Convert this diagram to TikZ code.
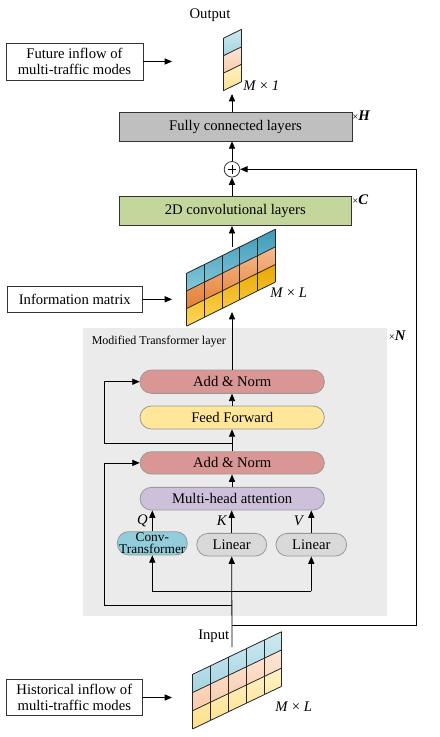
\documentclass[tikz,border=0pt]{standalone}
\usepackage{fontspec}
\setmainfont{Liberation Serif}
\usetikzlibrary{arrows.meta}
\newcommand\PX{0.75pt}
\definecolor{bgc}{HTML}{EBEBEB}
\definecolor{fcc}{HTML}{BFBFBF}
\definecolor{cvc}{HTML}{C3D69B}
\definecolor{anc}{HTML}{D99694}
\definecolor{ffc}{HTML}{FFE699}
\definecolor{mhc}{HTML}{CCC0DA}
\definecolor{ctc}{HTML}{92CDDC}
\definecolor{lnc}{HTML}{D9D9D9}
\definecolor{sBt}{HTML}{3D9BB8}
\definecolor{sBb}{HTML}{86C8DB}
\definecolor{sOt}{HTML}{F7B98E}
\definecolor{sOb}{HTML}{E47F33}
\definecolor{sYt}{HTML}{E8A800}
\definecolor{sYb}{HTML}{FFD65A}
\definecolor{lBt}{HTML}{CFE9F1}
\definecolor{lBb}{HTML}{A3D4E2}
\definecolor{lOt}{HTML}{FDE6D6}
\definecolor{lOb}{HTML}{F8C9AA}
\definecolor{lYt}{HTML}{FFF3C8}
\definecolor{lYb}{HTML}{FDDF8A}
\newcommand\skewmat[7]{%
\begin{scope}[shift={(#1,#2)},yslant=#3]
  \shade[top color=#7Bt,bottom color=#7Bb] (0,0) rectangle ({#6*#4},{#5});
  \shade[top color=#7Ot,bottom color=#7Ob] (0,{#5}) rectangle ({#6*#4},{2*#5});
  \shade[top color=#7Yt,bottom color=#7Yb] (0,{2*#5}) rectangle ({#6*#4},{3*#5});
  \foreach \cc in {0,...,#6} \draw[gline] ({\cc*#4},0) -- ({\cc*#4},{3*#5});
  \foreach \rr in {0,...,3} \draw[gline] (0,{\rr*#5}) -- ({#6*#4},{\rr*#5});
\end{scope}}
\tikzset{
  gline/.style={line width=0.6pt,draw=black!85},
  box/.style={draw=black!80,line width=0.6pt,align=center,inner sep=0pt,
     font=\fontsize{11}{12.5}\selectfont},
  rbox/.style={draw=black!40,line width=0.6pt,align=center,inner sep=0pt,
     rounded corners=8.5pt,font=\fontsize{11}{12.5}\selectfont},
  arr/.style={-{Triangle[length=5.5pt,width=4.6pt]},line width=0.6pt},
  ln/.style={line width=0.6pt},
  lab/.style={inner sep=0pt,font=\fontsize{11}{12.5}\selectfont},
}
\begin{document}
\begin{tikzpicture}[x=0.75pt,y=-0.75pt]
\useasboundingbox (0,0) rectangle (439,737);
\fill[bgc] (83.3,327.7) rectangle (386.7,615.7);

% matrices
\skewmat{223.3}{38.3}{0.49}{18.4}{17.47}{1}{l}
\skewmat{186.7}{273.3}{0.497}{17.72}{17.6}{5}{s}
\skewmat{192.7}{674.3}{0.479}{17.8}{18.2}{5}{l}

% side boxes
\node[box,minimum width=137*\PX,minimum height=37*\PX] (fut) at (74.5,61.5) {Future inflow of\\multi-traffic modes};
\node[box,minimum width=135.7*\PX,minimum height=26.7*\PX] (info) at (74.8,299.3) {Information matrix};
\node[box,minimum width=136.7*\PX,minimum height=36.4*\PX] (hist) at (74.3,697.5) {Historical inflow of\\multi-traffic modes};

% main boxes
\node[box,fill=fcc,minimum width=233*\PX,minimum height=28.3*\PX] (fc) at (235.5,126.8) {Fully connected layers};
\node[box,fill=cvc,minimum width=232.7*\PX,minimum height=29*\PX] (conv) at (235.3,211.2) {2D convolutional layers};
\node[draw=black!80,fill=white,line width=0.6pt,circle,minimum size=15.6*\PX,inner sep=0pt] (cplus) at (232,169.3) {};
\draw[line width=0.5pt] ([xshift=-3.2pt]cplus.center) -- ([xshift=3.2pt]cplus.center)
  ([yshift=-3.2pt]cplus.center) -- ([yshift=3.2pt]cplus.center);

\node[rbox,fill=anc,minimum width=184.3*\PX,minimum height=23.3*\PX] (an2) at (232.2,381.7) {Add \& Norm};
\node[rbox,fill=ffc,minimum width=184.3*\PX,minimum height=23*\PX] (ff) at (232.2,417.5) {Feed Forward};
\node[rbox,fill=anc,minimum width=184.3*\PX,minimum height=22.3*\PX] (an1) at (232.2,462.9) {Add \& Norm};
\node[rbox,fill=mhc,minimum width=184.3*\PX,minimum height=22.7*\PX] (mha) at (232.2,498.7) {Multi-head attention};
\node[rbox,fill=ctc,minimum width=70*\PX,minimum height=23.3*\PX,font=\fontsize{10}{9}\selectfont] (ct) at (152.3,543.3) {Conv-\\Transformer};
\node[rbox,fill=lnc,minimum width=70*\PX,minimum height=22.7*\PX] (lin1) at (231.7,544.7) {Linear};
\node[rbox,fill=lnc,minimum width=70.7*\PX,minimum height=22.7*\PX] (lin2) at (311.3,544.7) {Linear};

% labels
\node[lab] (outl) at (210,15) {Output};
\node[lab,anchor=west] (m1) at (243,86) {\textit{M} × \textit{1}};
\node[lab,anchor=west] (ml1) at (270,293) {\textit{M} × \textit{L}};
\node[lab,anchor=west] (ml2) at (275,707) {\textit{M} × \textit{L}};
\node[lab,anchor=east] (inl) at (229.5,636) {Input};
\node[lab,anchor=west] (xh) at (352,116) {{\fontsize{8}{9}\selectfont×}\textbf{\textit{H}}};
\node[lab,anchor=west] (xc) at (352,200) {{\fontsize{8}{9}\selectfont×}\textbf{\textit{C}}};
\node[lab,anchor=west] (xn) at (388.5,336) {{\fontsize{8}{9}\selectfont×}\textbf{\textit{N}}};
\node[lab,anchor=west,font=\fontsize{9}{10}\selectfont] (mtl) at (91.5,341.7) {Modified Transformer layer};
\node[lab] (ql) at (142.5,520.5) {\textit{Q}};
\node[lab] (kl) at (222,520.5) {\textit{K}};
\node[lab] (vl) at (299,520.5) {\textit{V}};

% coordinates
\coordinate (futT) at (172,61.5);
\coordinate (infoT) at (172,299.3);
\coordinate (histT) at (172,697.5);
\coordinate (vecB) at (232,94);
\coordinate (imT) at (232,247);
\coordinate (imB) at (232,312);
\coordinate (inTop) at (232,647);
\coordinate (fbJ) at (232,625);
\coordinate (fbR) at (416.7,625);
\coordinate (rbJ) at (232,605);
\coordinate (rbL) at (104.3,605);
\coordinate (rtJ) at (232,443.3);
\coordinate (rtL) at (104.3,443.3);
\coordinate (splitL) at (152.3,591);
\coordinate (splitR) at (311.3,591);

% connectors
\draw[arr] (fut.east) -- (futT);
\draw[arr] (info.east) -- (infoT);
\draw[arr] (hist.east) -- (histT);
\draw[arr] (fc.north -| cplus) -- (vecB);
\draw[arr] (cplus.north) -- (fc.south -| cplus);
\draw[arr] (conv.north -| cplus) -- (cplus.south);
\draw[arr] (imT) -- (conv.south -| cplus);
\draw[arr] (an2.north -| cplus) -- (imB);
\draw[arr] (ff.north -| cplus) -- (an2.south -| cplus);
\draw[arr] (an1.north -| cplus) -- (ff.south -| cplus);
\draw[arr] (mha.north -| cplus) -- (an1.south -| cplus);
\draw[arr] (rtJ) -- (rtL) -- (rtL |- an2.west) -- (an2.west);
\draw[arr] (rbJ) -- (rbL) -- (rbL |- an1.west) -- (an1.west);
\draw[arr] (ct.north) -- (ct.north |- mha.south);
\draw[arr] (lin1.north) -- (lin1.north |- mha.south);
\draw[arr] (lin2.north) -- (lin2.north |- mha.south);
\draw[arr] (inTop) -- (lin1.south);
\draw[ln] (splitL) -- (splitR);
\draw[arr] (splitL) -- (ct.south);
\draw[arr] (splitR) -- (lin2.south);
\draw[arr] (fbJ) -- (fbR) -- (fbR |- cplus.east) -- (cplus.east);
\end{tikzpicture}
\end{document}
